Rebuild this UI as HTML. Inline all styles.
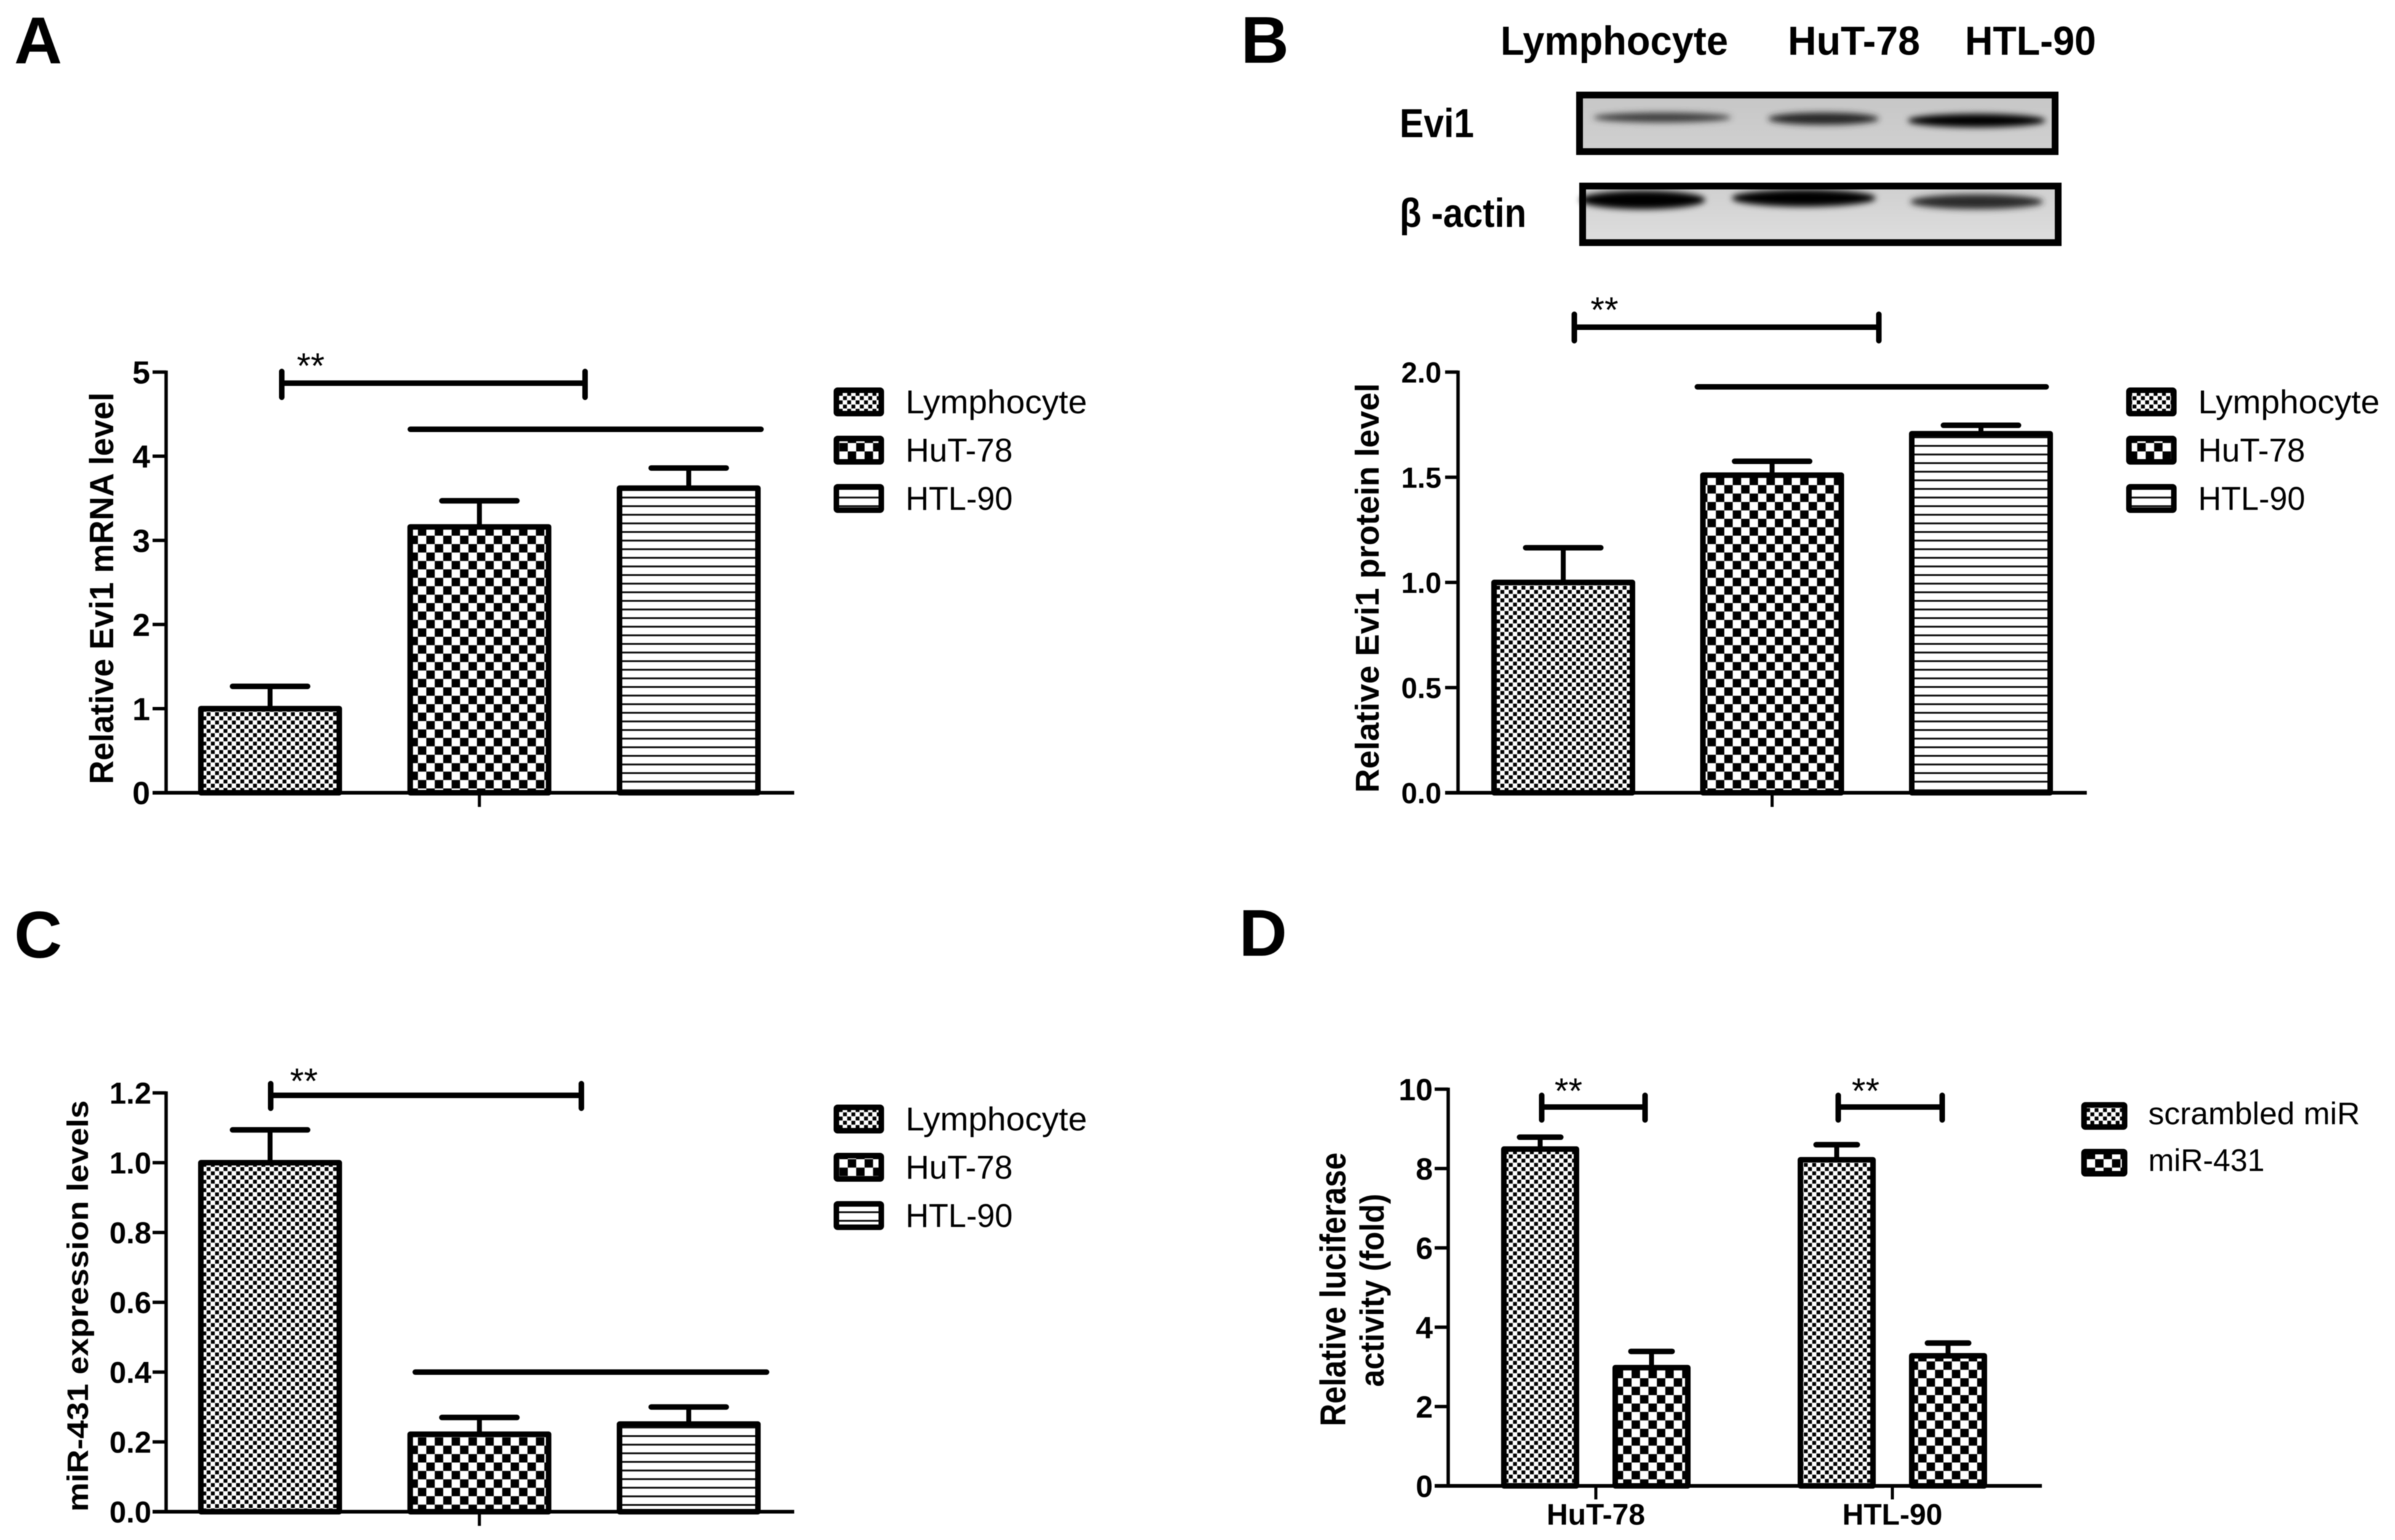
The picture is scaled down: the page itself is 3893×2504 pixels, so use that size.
<!DOCTYPE html>
<html lang="en">
<head>
<meta charset="utf-8">
<title>Evi1 and miR-431 expression panels</title>
<style>
html,body{margin:0;padding:0;background:#fff;}
svg{display:block;filter:blur(0.7px);}
text{font-family:"Liberation Sans",sans-serif;fill:#000;}
.b{font-weight:700;}
.ink{stroke:#000;fill:none;stroke-linecap:round;}
</style>
</head>
<body>
<svg id="figure" xmlns="http://www.w3.org/2000/svg" width="3893" height="2504" viewBox="0 0 3893 2504">
<defs>
<pattern id="fine" patternUnits="userSpaceOnUse" width="13.7" height="13.7">
<rect width="13.7" height="13.7" fill="#fff"/><rect x="0.3" y="0.3" width="6.25" height="6.25" fill="#000"/><rect x="7.15" y="7.15" width="6.25" height="6.25" fill="#000"/>
</pattern>
<pattern id="coarse" patternUnits="userSpaceOnUse" width="27.4" height="27.4" patternTransform="translate(693 871)">
<rect width="27.4" height="27.4" fill="#fff"/><rect width="13.7" height="13.7" fill="#000"/><rect x="13.7" y="13.7" width="13.7" height="13.7" fill="#000"/>
</pattern>
<pattern id="stripes" patternUnits="userSpaceOnUse" width="14" height="14" patternTransform="translate(0 807.5)">
<rect width="14" height="14" fill="#fff"/><rect width="14" height="3" fill="#111"/>
</pattern>
<filter id="band-blur" x="-20%" y="-200%" width="140%" height="500%"><feGaussianBlur stdDeviation="5"/></filter>
<linearGradient id="blot-bg-1" x1="0" y1="0" x2="0" y2="1"><stop offset="0" stop-color="#c6c6c6"/><stop offset="1" stop-color="#d0d0d0"/></linearGradient>
<linearGradient id="blot-bg-2" x1="0" y1="0" x2="0" y2="1"><stop offset="0" stop-color="#cfcfcf"/><stop offset="1" stop-color="#dedede"/></linearGradient>
</defs>
<rect width="3893" height="2504" fill="#fff"/>

<text class="b" x="23" y="103" font-size="108">A</text>
<text class="b" x="2017" y="102" font-size="108">B</text>
<text class="b" x="23" y="1557" font-size="108">C</text>
<text class="b" x="2014" y="1554" font-size="108">D</text>

<g>
<text class="b" x="2439" y="89" font-size="66" textLength="370" lengthAdjust="spacingAndGlyphs">Lymphocyte</text>
<text class="b" x="2906" y="89" font-size="66" textLength="215" lengthAdjust="spacingAndGlyphs">HuT-78</text>
<text class="b" x="3194" y="89" font-size="66" textLength="213" lengthAdjust="spacingAndGlyphs">HTL-90</text>
<text class="b" x="2275" y="223" font-size="66" textLength="121" lengthAdjust="spacingAndGlyphs">Evi1</text>
<text class="b" x="2275" y="369" font-size="66" textLength="206" lengthAdjust="spacingAndGlyphs">β -actin</text>

<g>
<rect x="2567" y="154" width="774" height="93" fill="url(#blot-bg-1)"/>
<g filter="url(#band-blur)">
<ellipse cx="2702" cy="191" rx="112" ry="8" fill="#3c3c3c"/>
<ellipse cx="2964" cy="193" rx="90" ry="10" fill="#262626"/>
<ellipse cx="3213" cy="196" rx="112" ry="11" fill="#050505"/>
</g>
<rect x="2567.5" y="154.5" width="773" height="92" fill="none" stroke="#000" stroke-width="11"/>
</g>
<g>
<rect x="2572" y="302" width="774" height="93" fill="url(#blot-bg-2)"/>
<g filter="url(#band-blur)">
<ellipse cx="2670" cy="325" rx="102" ry="15" fill="#000"/>
<ellipse cx="2932" cy="322" rx="117" ry="14" fill="#050505"/>
<ellipse cx="3213" cy="328" rx="108" ry="12" fill="#2a2a2a"/>
</g>
<rect x="2572.5" y="302.5" width="773" height="92" fill="none" stroke="#000" stroke-width="11"/>
</g>
</g>

<text class="b" transform="translate(184 1275) rotate(-90)" font-size="55" textLength="637" lengthAdjust="spacingAndGlyphs">Relative Evi1 mRNA level</text>
<text class="b" transform="translate(2241 1289) rotate(-90)" font-size="54" textLength="666" lengthAdjust="spacingAndGlyphs">Relative Evi1 protein level</text>
<text class="b" transform="translate(143 2458) rotate(-90)" font-size="48" textLength="669" lengthAdjust="spacingAndGlyphs">miR-431 expression levels</text>
<g>
<text class="b" transform="translate(2187 2319) rotate(-90)" font-size="58" textLength="445" lengthAdjust="spacingAndGlyphs">Relative luciferase</text>
<text class="b" transform="translate(2249 2255) rotate(-90)" font-size="55" textLength="314" lengthAdjust="spacingAndGlyphs">activity (fold)</text>
</g>

<g>
<path class="ink" stroke-width="9" d="M458 623H951M458 604V646M951 604V646"/>
<path class="ink" stroke-width="9" d="M667 698H1237"/>
<text x="505" y="615" font-size="58" text-anchor="middle">**</text>
</g>
<g>
<path class="ink" stroke-width="9" d="M2559 532H3054M2559 511V554M3054 511V554"/>
<path class="ink" stroke-width="9" d="M2759 629H3326"/>
<text x="2608" y="524" font-size="58" text-anchor="middle">**</text>
</g>
<g>
<path class="ink" stroke-width="9" d="M440 1781H945M440 1762V1802M945 1762V1802"/>
<path class="ink" stroke-width="9" d="M675 2231H1246"/>
<text x="494" y="1778" font-size="58" text-anchor="middle">**</text>
</g>
<g>
<path class="ink" stroke-width="9" d="M2506 1800H2674M2506 1781V1821M2674 1781V1821"/>
<path class="ink" stroke-width="9" d="M2988 1800H3157M2988 1781V1821M3157 1781V1821"/>
<text x="2549.5" y="1794" font-size="58" text-anchor="middle">**</text>
<text x="3032.5" y="1794" font-size="58" text-anchor="middle">**</text>
</g>

<g id="charts"></g>
</svg>

<script>
// ---- Panel A ----
const panelACategories = ['Lymphocyte', 'HuT-78', 'HTL-90'];
const panelAValues = [1.0, 3.16, 3.62];
const panelAErrors = [0.265, 0.31, 0.24];
const panelATicks = [0, 1, 2, 3, 4, 5];
const panelATickLabels = ['0', '1', '2', '3', '4', '5'];

// ---- Panel B ----
const panelBCategories = ['Lymphocyte', 'HuT-78', 'HTL-90'];
const panelBValues = [1.0, 1.51, 1.707];
const panelBErrors = [0.165, 0.066, 0.04];
const panelBTicks = [0, 0.5, 1, 1.5, 2];
const panelBTickLabels = ['0.0', '0.5', '1.0', '1.5', '2.0'];

// ---- Panel C ----
const panelCCategories = ['Lymphocyte', 'HuT-78', 'HTL-90'];
const panelCValues = [1.0, 0.222, 0.251];
const panelCErrors = [0.094, 0.048, 0.049];
const panelCTicks = [0, 0.2, 0.4, 0.6, 0.8, 1.0, 1.2];
const panelCTickLabels = ['0.0', '0.2', '0.4', '0.6', '0.8', '1.0', '1.2'];

// ---- Panel D ----
const panelDGroups = ['HuT-78', 'HTL-90'];
const panelDSeries = ['scrambled miR', 'miR-431'];
const panelDScrambledValues = [8.49, 8.22];
const panelDScrambledErrors = [0.3, 0.38];
const panelDMirValues = [2.98, 3.28];
const panelDMirErrors = [0.41, 0.32];
const panelDTicks = [0, 2, 4, 6, 8, 10];
const panelDTickLabels = ['0', '2', '4', '6', '8', '10'];

const NS = 'http://www.w3.org/2000/svg';
const chartsRoot = document.getElementById('charts');

function make(tag, attrs, parent) {
  const el = document.createElementNS(NS, tag);
  for (const key in attrs) el.setAttribute(key, attrs[key]);
  parent.appendChild(el);
  return el;
}

function linearScale(d0, d1, r0, r1) {
  return function (v) { return r0 + (v - d0) * (r1 - r0) / (d1 - d0); };
}

function drawAxes(group, y, ticks, tickLabels, o) {
  const axis = make('line', { x1: o.axisX, x2: o.axisX, y1: y(ticks[ticks.length - 1]) - 2.5, y2: y(0), stroke: '#000', 'stroke-width': 5.5 }, group);
  
  
  ticks.forEach(function (t, i) {
    const tick = make('line', { x1: o.baseLeft, x2: o.axisX, y1: y(t), y2: y(t), stroke: '#000', 'stroke-width': 5.5 }, group);
    
    
    const label = make('text', { x: o.labelX, y: y(t) + o.tickFont * 0.36, 'font-size': o.tickFont, 'text-anchor': 'end', class: 'b' }, group);
    label.textContent = tickLabels[i];
    
    
  });
  const baseline = make('line', { x1: o.baseLeft, x2: o.baseRight, y1: y(0), y2: y(0), stroke: '#000', 'stroke-width': 6 }, group);
  
  
}

function drawBar(group, cx, width, capWidth, value, error, y, pattern, name) {
  const top = y(value);
  const capY = y(value + error);
  const stem = make('line', { x1: cx, x2: cx, y1: top, y2: capY, stroke: '#000', 'stroke-width': 8 }, group);
  
  
  const cap = make('line', { x1: cx - capWidth / 2, x2: cx + capWidth / 2, y1: capY, y2: capY, stroke: '#000', 'stroke-width': 9, 'stroke-linecap': 'round' }, group);
  
  
  const bar = make('rect', { x: cx - width / 2, y: top, width: width, height: y(0) - top, fill: 'url(#' + pattern + ')', stroke: '#000', 'stroke-width': 9, 'stroke-linejoin': 'round' }, group);
  
  
}

function drawLegend(group, labels, patterns, o) {
  labels.forEach(function (label, i) {
    const top = o.top + i * o.step;
    const entry = make('g', {}, group);
    
    
    const swatch = make('rect', { x: o.x + 4.5, y: top + 4.5, width: o.w - 9, height: o.h - 9, rx: 2, fill: 'url(#' + patterns[i] + ')', stroke: '#000', 'stroke-width': 9, 'stroke-linejoin': 'round' }, entry);
    
    
    const text = make('text', { x: o.textX, y: top + o.h - o.baseInset, 'font-size': o.font, textLength: o.fit(label), lengthAdjust: 'spacingAndGlyphs' }, entry);
    text.textContent = label;
    
    
  });
}

function fitThreeCellLegend(label) {
  return label === 'Lymphocyte' ? 295 : 174;
}

function fitTwoSeriesLegend(label) {
  return label === 'miR-431' ? 189 : 344;
}

function drawSimplePanel(name, categories, values, errors, ticks, tickLabels, o) {
  const group = make('g', {}, chartsRoot);
  
  
  const y = linearScale(ticks[0], ticks[ticks.length - 1], o.y0, o.yMax);
  const x = function (i) { return o.x0 + i * o.step; };
  const patterns = ['fine', 'coarse', 'stripes'];
  categories.forEach(function (cat, i) {
    drawBar(group, x(i), 225, 122, values[i], errors[i], y, patterns[i], cat.toLowerCase());
  });
  drawAxes(group, y, ticks, tickLabels, o);
  const xTick = make('line', { x1: x(1), x2: x(1), y1: y(0), y2: y(0) + 23, stroke: '#000', 'stroke-width': 5 }, group);
  
  
  drawLegend(group, categories, patterns, { x: o.legendX, textX: o.legendX + 117, top: o.legendTop, step: 78.5, w: 82, h: 47, font: 54, baseInset: 5, fit: fitThreeCellLegend });
}

drawSimplePanel('a', panelACategories, panelAValues, panelAErrors, panelATicks, panelATickLabels, {
  y0: 1289, yMax: 605, x0: 439, step: 340.25, axisX: 270, baseLeft: 248, baseRight: 1291, labelX: 244, tickFont: 52, legendX: 1355, legendTop: 630
});
drawSimplePanel('b', panelBCategories, panelBValues, panelBErrors, panelBTicks, panelBTickLabels, {
  y0: 1289, yMax: 605, x0: 2541, step: 339.5, axisX: 2370, baseLeft: 2349, baseRight: 3392, labelX: 2343, tickFont: 47, legendX: 3456, legendTop: 630
});
drawSimplePanel('c', panelCCategories, panelCValues, panelCErrors, panelCTicks, panelCTickLabels, {
  y0: 2458, yMax: 1777, x0: 439, step: 340.25, axisX: 270, baseLeft: 248, baseRight: 1291, labelX: 246, tickFont: 49, legendX: 1355, legendTop: 1796
});

(function drawPanelD() {
  const group = make('g', {}, chartsRoot);
  
  
  const y = linearScale(0, 10, 2416, 1771);
  const gx = function (g) { return 2594 + g * 482; };
  panelDGroups.forEach(function (cat, g) {
    drawBar(group, gx(g) - 90.5, 118, 67, panelDScrambledValues[g], panelDScrambledErrors[g], y, 'fine', 'scrambled-' + cat.toLowerCase());
    drawBar(group, gx(g) + 90.5, 118, 67, panelDMirValues[g], panelDMirErrors[g], y, 'coarse', 'mir-431-' + cat.toLowerCase());
  });
  drawAxes(group, y, panelDTicks, panelDTickLabels, { axisX: 2354, baseLeft: 2332, baseRight: 3319, labelX: 2329, tickFont: 50 });
  panelDGroups.forEach(function (cat, g) {
    const tick = make('line', { x1: gx(g), x2: gx(g), y1: y(0), y2: y(0) + 22, stroke: '#000', 'stroke-width': 5 }, group);
    
    
    const label = make('text', { x: gx(g), y: 2479, 'font-size': 48, 'text-anchor': 'middle', class: 'b' }, group);
    label.textContent = cat;
    
    
  });
  drawLegend(group, panelDSeries, ['fine', 'coarse'], { x: 3383, textX: 3492, top: 1792, step: 76, w: 75, h: 45, font: 51, baseInset: 9, fit: fitTwoSeriesLegend });
})();
</script>
</body>
</html>
